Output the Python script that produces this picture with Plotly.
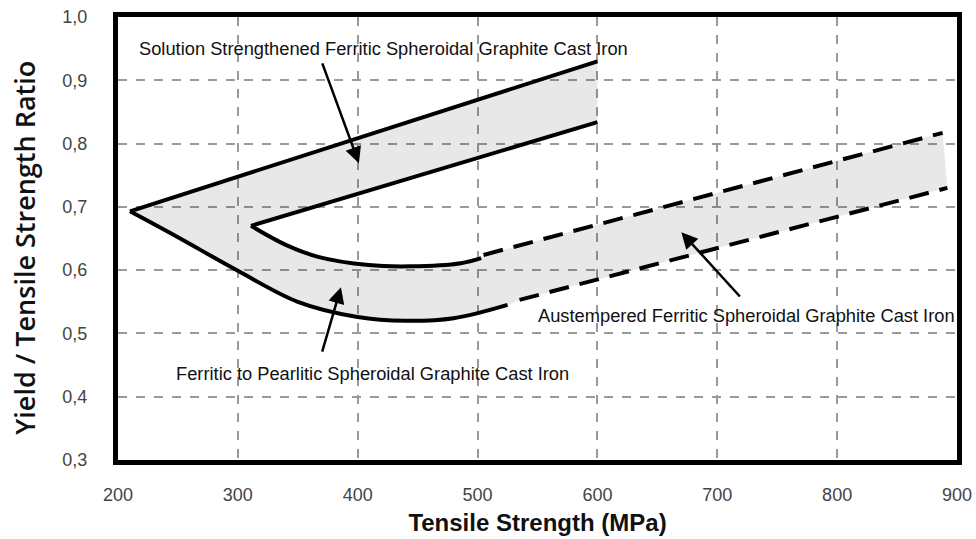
import plotly.graph_objects as go

# ---- data ----
x_ticks = [200, 300, 400, 500, 600, 700, 800, 900]
y_ticks = [0.3, 0.4, 0.5, 0.6, 0.7, 0.8, 0.9, 1.0]
y_ticktext = ["0,3", "0,4", "0,5", "0,6", "0,7", "0,8", "0,9", "1,0"]

# Solution strengthened ferritic SG iron band (solid lines)
ss_upper_x = [210, 600]
ss_upper_y = [0.693, 0.930]
ss_lower_x = [311, 600]
ss_lower_y = [0.670, 0.834]

# Ferritic to pearlitic band boundaries (solid curves)
fp_outer_x = [210, 250, 300, 350, 400, 440, 480, 525]
fp_outer_y = [0.693, 0.652, 0.599, 0.550, 0.526, 0.520, 0.524, 0.545]
fp_inner_x = [311, 340, 367, 409, 444, 486, 503]
fp_inner_y = [0.670, 0.640, 0.621, 0.608, 0.606, 0.611, 0.619]

# Austempered ferritic SG iron band (dashed lines)
adi_upper_x = [505, 888]
adi_upper_y = [0.624, 0.817]
adi_lower_x = [535, 892]
adi_lower_y = [0.553, 0.730]

# Labels and arrows: text, text position, arrow head, arrow tail
labels = [
    "Solution Strengthened Ferritic Spheroidal Graphite Cast Iron",
    "Ferritic to Pearlitic Spheroidal Graphite Cast Iron",
    "Austempered Ferritic Spheroidal Graphite Cast Iron",
]
label_x = [216, 247, 549]
label_y = [0.951, 0.437, 0.529]
head_x = [401, 386, 670]
head_y = [0.769, 0.573, 0.660]
tail_x = [370, 370, 720]
tail_y = [0.929, 0.469, 0.556]

x_title = "Tensile Strength (MPa)"
y_title = "Yield / Tensile Strength Ratio"

# ---- figure ----
fig = go.Figure()

# grey shaded region (built from the curves above)
fill_x = (ss_upper_x + ss_lower_x[::-1] + fp_inner_x + adi_upper_x
          + adi_lower_x[::-1] + fp_outer_x[::-1])
fill_y = (ss_upper_y + ss_lower_y[::-1] + fp_inner_y + adi_upper_y
          + adi_lower_y[::-1] + fp_outer_y[::-1])
fig.add_trace(go.Scatter(x=fill_x, y=fill_y, mode="lines", fill="toself",
                         fillcolor="rgba(0,0,0,0.09)", line=dict(width=0),
                         hoverinfo="skip", showlegend=False))

solid = dict(color="black", width=4)
dashed = dict(color="black", width=4, dash="20px,11px")
for xs, ys, ln, shape in [
    (ss_upper_x, ss_upper_y, solid, "linear"),
    (ss_lower_x, ss_lower_y, solid, "linear"),
    (fp_outer_x, fp_outer_y, solid, "spline"),
    (fp_inner_x, fp_inner_y, solid, "spline"),
    (adi_upper_x, adi_upper_y, dashed, "linear"),
    (adi_lower_x, adi_lower_y, dashed, "linear"),
]:
    fig.add_trace(go.Scatter(x=xs, y=ys, mode="lines", line=dict(shape=shape, **ln),
                             showlegend=False, hoverinfo="skip"))

annotations = []
for t, lx, ly in zip(labels, label_x, label_y):
    annotations.append(dict(x=lx, y=ly, xref="x", yref="y", text=t, showarrow=False,
                            xanchor="left", yanchor="middle",
                            font=dict(family="Liberation Sans, Arial", size=18.3, color="#111")))
for hx, hy, tx, ty in zip(head_x, head_y, tail_x, tail_y):
    annotations.append(dict(x=hx, y=hy, ax=tx, ay=ty, xref="x", yref="y",
                            axref="x", ayref="y", text="", showarrow=True,
                            arrowhead=2, arrowsize=1.3, arrowwidth=2.5,
                            arrowcolor="black", standoff=0))
# y-axis title placed as rotated text
annotations.append(dict(x=-0.111, y=0.479, xref="paper", yref="paper", text=y_title,
                        textangle=-90, showarrow=False, xanchor="center", yanchor="middle",
                        font=dict(family="Open Sans", size=27, weight=600, color="#111")))

fig.update_layout(
    width=976, height=539,
    margin=dict(l=118, r=19, t=17, b=79, autoexpand=False),
    paper_bgcolor="white", plot_bgcolor="white",
    annotations=annotations,
    xaxis=dict(range=[200, 900], tickvals=x_ticks, ticktext=[str(v) for v in x_ticks],
               automargin=False,
               showgrid=True, gridcolor="#9a9a9a", gridwidth=1.5, griddash="dash",
               showline=True, linecolor="black", linewidth=5, mirror=True,
               zeroline=False, ticks="", ticklabelstandoff=14,
               tickfont=dict(family="Liberation Sans, Arial", size=18, color="#444"),
               title=dict(text=x_title, standoff=12,
                          font=dict(family="Liberation Sans, Arial", size=24,
                                    weight="bold", color="#111"))),
    yaxis=dict(range=[0.3, 1.0], tickvals=y_ticks, ticktext=y_ticktext,
               automargin=False,
               showgrid=True, gridcolor="#9a9a9a", gridwidth=1.5, griddash="dash",
               showline=True, linecolor="black", linewidth=5, mirror=True,
               zeroline=False, ticks="", ticklabelstandoff=22,
               tickfont=dict(family="Liberation Sans, Arial", size=18, color="#444")),
)

fig.write_html("out.html")
